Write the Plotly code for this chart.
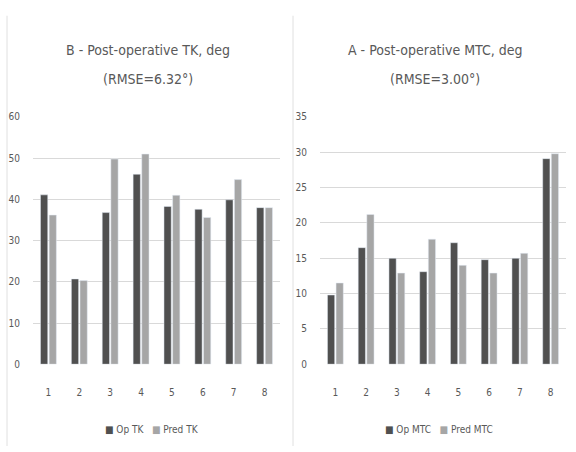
import plotly.graph_objects as go

categories = ["1", "2", "3", "4", "5", "6", "7", "8"]
op_tk = [41.1, 20.7, 36.8, 46.1, 38.3, 37.6, 39.9, 38.0]
pred_tk = [36.2, 20.3, 49.8, 51.0, 41.0, 35.6, 44.8, 38.0]
op_mtc = [9.8, 16.5, 15.0, 13.1, 17.2, 14.8, 15.0, 29.1]
pred_mtc = [11.5, 21.2, 12.9, 17.7, 14.0, 12.9, 15.7, 29.8]

dark = "#505050"
light = "#a6a6a6"
txt = "#595959"
font = "Liberation Sans Narrow, DejaVu Sans Condensed, Liberation Sans, sans-serif"

fig = go.Figure()
fig.add_trace(go.Bar(x=categories, y=op_tk, name="Op TK", marker_color=dark,
                     xaxis="x", yaxis="y"))
fig.add_trace(go.Bar(x=categories, y=pred_tk, name="Pred TK", marker_color=light,
                     xaxis="x", yaxis="y"))
fig.add_trace(go.Bar(x=categories, y=op_mtc, name="Op MTC", marker_color=dark,
                     xaxis="x2", yaxis="y2"))
fig.add_trace(go.Bar(x=categories, y=pred_mtc, name="Pred MTC", marker_color=light,
                     xaxis="x2", yaxis="y2"))

W, H = 576, 452
ydom = [1 - 368 / H, 1 - 114 / H]
axis_common = dict(showline=False, zeroline=False, ticks="",
                   tickfont=dict(size=10, color=txt, family=font))
fig.update_layout(
    width=W, height=H,
    margin=dict(l=0, r=0, t=0, b=0),
    paper_bgcolor="white", plot_bgcolor="white",
    barmode="group", bargap=0.44, bargroupgap=0.16,
    font=dict(family=font, color=txt),
    showlegend=False,
    xaxis=dict(domain=[33 / W, 280 / W], anchor="y", showgrid=False,
               ticklabelstandoff=21, **axis_common),
    yaxis=dict(domain=ydom, anchor="x", range=[0, 60], dtick=10,
               showgrid=True, gridcolor="#d9d9d9", gridwidth=1,
               ticklabelstandoff=12, **axis_common),
    xaxis2=dict(domain=[320 / W, 566 / W], anchor="y2", showgrid=False,
                ticklabelstandoff=21, **axis_common),
    yaxis2=dict(domain=ydom, anchor="x2", range=[0, 35], dtick=5,
                showgrid=True, gridcolor="#d9d9d9", gridwidth=1,
                ticklabelstandoff=12, **axis_common),
)

for xc, l1, l2 in [(148, "B - Post-operative TK, deg", "(RMSE=6.32°)"),
                   (435, "A - Post-operative MTC, deg", "(RMSE=3.00°)")]:
    fig.add_annotation(x=xc / W, y=1 - 45 / H, xref="paper", yref="paper", text=l1,
                       xanchor="center", yanchor="middle",
                       showarrow=False, font=dict(size=14, color=txt, family=font))
    fig.add_annotation(x=xc / W, y=1 - 75 / H, xref="paper", yref="paper", text=l2,
                       xanchor="center", yanchor="middle",
                       showarrow=False, font=dict(size=14, color=txt, family=font))

for xc, a, b in [(152, "Op TK", "Pred TK"), (439, "Op MTC", "Pred MTC")]:
    fig.add_annotation(
        x=xc / W, y=1 - 435 / H, xref="paper", yref="paper",
        xanchor="center", yanchor="middle", showarrow=False,
        text=f"<span style='color:{dark}'>■</span> {a}   <span style='color:{light}'>■</span> {b}",
        font=dict(size=10, color=txt, family=font))

for xb in [7, 293]:
    fig.add_shape(type="line", xref="paper", yref="paper", x0=xb / W, x1=xb / W,
                  y0=0, y1=1 - 10 / H, line=dict(color="#e0e0e0", width=1))

fig.write_html("out.html", config={"displayModeBar": False},
               post_script="document.body.style.margin='0px';")
